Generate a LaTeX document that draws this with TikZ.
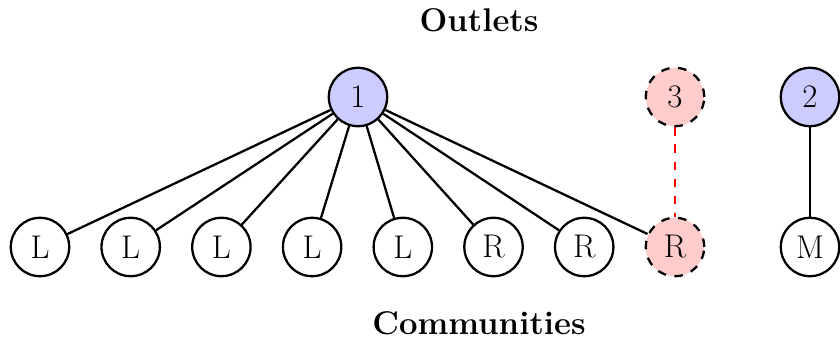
\documentclass[tikz,border=0pt]{standalone}
\usepackage{tikz}
\usetikzlibrary{positioning}

\begin{document}
\begin{tikzpicture}[x=0.0185cm, y=-0.0185cm,
    vertex/.style={draw, line width=1.2pt, circle, minimum size=1.08cm, inner sep=0pt, font=\LARGE},
    outlet/.style={vertex, fill=blue!20},
    removed/.style={vertex, fill=red!20, dash pattern=on 4.5pt off 4.5pt},
    title/.style={font=\LARGE\bfseries}]

        \useasboundingbox (0,0) rectangle (840,340);

        % outlets
        \node [outlet] (o1) at (358,97) {1};
        \node [removed] (o3) at (675,97) {3};
        \node [outlet] (o2) at (810,97) {2};

        % communities
        \foreach \i/\lab in {1/L, 2/L, 3/L, 4/L, 5/L, 6/R, 7/R}
          \node [vertex] (c\i) at ({40 + (\i-1)*90.7},247) {\lab};
        \node [removed] (c8) at (675,247) {R};
        \node [vertex] (c9) at (810,247) {M};

        \foreach \i in {1,...,8}
          \draw[line width=1.2pt] (o1) -- (c\i);
        \draw[line width=1.2pt, red, dash pattern=on 4.5pt off 4.5pt] (o3) -- (c8);
        \draw[line width=1.2pt] (o2) -- (c9);

        \node [title] (top) at (479,20) {Outlets};
        \node [title] (bottom) at (479,323) {Communities};

      \end{tikzpicture}
\end{document}
